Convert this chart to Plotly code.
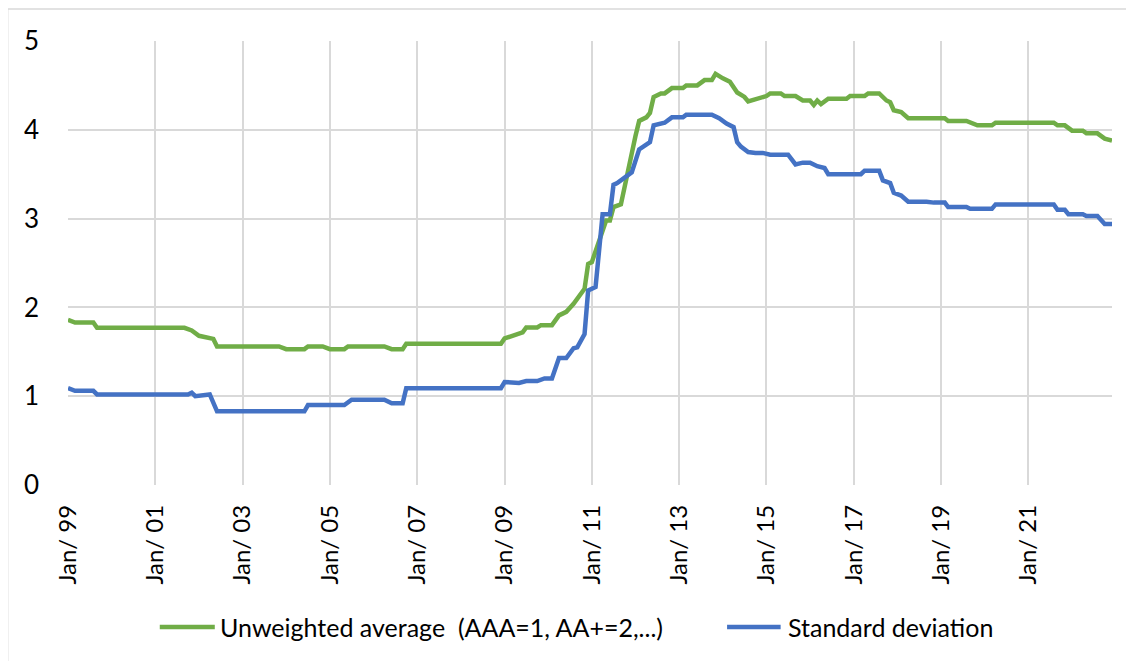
import plotly.graph_objects as go

# Green series: Unweighted average (knots)
avg_dates = ["1999-01", "1999-03", "1999-08", "1999-09", "2001-09", "2001-11", "2002-01", "2002-05",
             "2002-06", "2003-11", "2004-01", "2004-06", "2004-07", "2004-11", "2005-01", "2005-05",
             "2005-06", "2006-04", "2006-06", "2006-09", "2006-10", "2008-12", "2009-01", "2009-04",
             "2009-06", "2009-07", "2009-10", "2009-11", "2010-02", "2010-04", "2010-06", "2010-08",
             "2010-09", "2010-11", "2010-12", "2011-01", "2011-05", "2011-06", "2011-07", "2011-09",
             "2012-01", "2012-02", "2012-04", "2012-05", "2012-06", "2012-08", "2012-09", "2012-11",
             "2013-02", "2013-03", "2013-06", "2013-08", "2013-10", "2013-11", "2014-01", "2014-03",
             "2014-05", "2014-07", "2014-08", "2014-11", "2015-01", "2015-02", "2015-05", "2015-06",
             "2015-09", "2015-11", "2016-01", "2016-02", "2016-03", "2016-04", "2016-06", "2016-11",
             "2016-12", "2017-04", "2017-05", "2017-08", "2017-10", "2017-11", "2017-12", "2018-02",
             "2018-04", "2019-02", "2019-03", "2019-08", "2019-09", "2019-11", "2020-03", "2020-04",
             "2021-08", "2021-09", "2021-11", "2022-01", "2022-04", "2022-05", "2022-08", "2022-10",
             "2022-12"]
avg_values = [1.86, 1.83, 1.83, 1.77, 1.77, 1.74, 1.68, 1.645,
              1.56, 1.56, 1.53, 1.53, 1.56, 1.56, 1.53, 1.53,
              1.56, 1.56, 1.53, 1.53, 1.59, 1.59, 1.65, 1.69,
              1.72, 1.775, 1.775, 1.80, 1.80, 1.91, 1.95, 2.04,
              2.10, 2.21, 2.49, 2.51, 2.98, 2.98, 3.13, 3.16,
              3.93, 4.10, 4.14, 4.19, 4.37, 4.41, 4.41, 4.47,
              4.47, 4.50, 4.50, 4.56, 4.56, 4.63, 4.58, 4.54,
              4.42, 4.37, 4.32, 4.35, 4.38, 4.41, 4.41, 4.38,
              4.38, 4.33, 4.33, 4.28, 4.33, 4.29, 4.35, 4.35,
              4.38, 4.38, 4.41, 4.41, 4.33, 4.31, 4.22, 4.20,
              4.13, 4.13, 4.10, 4.10, 4.08, 4.05, 4.05, 4.08,
              4.08, 4.05, 4.05, 3.99, 3.99, 3.96, 3.96, 3.90,
              3.88]

# Blue series: Standard deviation
sd_dates = ["1999-01", "1999-03", "1999-08", "1999-09", "2001-10", "2001-11", "2001-12", "2002-03",
            "2002-04", "2002-06", "2004-06", "2004-07", "2005-05", "2005-07", "2006-04", "2006-06",
            "2006-09", "2006-10", "2008-12", "2009-01", "2009-05", "2009-07", "2009-10", "2009-12",
            "2010-02", "2010-04", "2010-06", "2010-08", "2010-09", "2010-11", "2010-12", "2011-02",
            "2011-04", "2011-06", "2011-07", "2011-08", "2011-11", "2011-12", "2012-02", "2012-03",
            "2012-05", "2012-06", "2012-09", "2012-11", "2013-02", "2013-03", "2013-10", "2013-12",
            "2014-02", "2014-04", "2014-05", "2014-06", "2014-08", "2014-10", "2014-12", "2015-02",
            "2015-07", "2015-09", "2015-11", "2016-01", "2016-03", "2016-05", "2016-06", "2017-03",
            "2017-04", "2017-08", "2017-09", "2017-11", "2017-12", "2018-02", "2018-04", "2018-09",
            "2018-11", "2019-02", "2019-03", "2019-08", "2019-09", "2020-03", "2020-04", "2021-08",
            "2021-09", "2021-11", "2021-12", "2022-04", "2022-05", "2022-08", "2022-10", "2022-12"]
sd_values = [1.09, 1.06, 1.06, 1.02, 1.02, 1.04, 1.00, 1.02,
             1.02, 0.83, 0.83, 0.90, 0.90, 0.96, 0.96, 0.92,
             0.92, 1.09, 1.09, 1.16, 1.15, 1.17, 1.17, 1.20,
             1.20, 1.43, 1.43, 1.54, 1.55, 1.70, 2.19, 2.23,
             3.05, 3.05, 3.38, 3.40, 3.50, 3.52, 3.78, 3.81,
             3.86, 4.05, 4.08, 4.14, 4.14, 4.17, 4.17, 4.13,
             4.07, 4.03, 3.86, 3.81, 3.75, 3.74, 3.74, 3.72,
             3.72, 3.61, 3.63, 3.63, 3.59, 3.57, 3.50, 3.50,
             3.54, 3.54, 3.43, 3.40, 3.29, 3.26, 3.19, 3.19,
             3.18, 3.18, 3.13, 3.13, 3.11, 3.11, 3.16, 3.16,
             3.10, 3.10, 3.05, 3.05, 3.03, 3.03, 2.94, 2.94]

avg_name = "Unweighted average  (AAA=1, AA+=2,...)"
sd_name = "Standard deviation"
avg_color = "#70ad47"
sd_color = "#4472c4"

FONT = "Lato, Carlito, 'Open Sans', sans-serif"
GRID = "#d9d9d9"

fig = go.Figure()
fig.add_trace(go.Scatter(x=avg_dates, y=avg_values, mode="lines", name=avg_name,
                         line=dict(color=avg_color, width=4.5), showlegend=False))
fig.add_trace(go.Scatter(x=sd_dates, y=sd_values, mode="lines", name=sd_name,
                         line=dict(color=sd_color, width=4.5), showlegend=False))

# Manual legend (swatches + text) below the plot
LEG_Y = -0.3198
legend_items = [(avg_name, avg_color, 0.0879, 0.1406, 0.1435),
                (sd_name, sd_color, 0.6313, 0.6826, 0.6878)]
shapes = [dict(type="rect", xref="paper", yref="paper",
               x0=-0.0578, x1=1.1, y0=-0.6, y1=1.072,
               line=dict(color=GRID, width=1.5), fillcolor="rgba(0,0,0,0)", layer="below")]
annotations = []
for name, color, sx0, sx1, tx in legend_items:
    shapes.append(dict(type="line", xref="paper", yref="paper", x0=sx0, x1=sx1, y0=LEG_Y, y1=LEG_Y,
                       line=dict(color=color, width=4.5)))
    annotations.append(dict(text=name, xref="paper", yref="paper", x=tx, y=LEG_Y,
                            xanchor="left", yanchor="middle", showarrow=False,
                            font=dict(family=FONT, size=25, color="#000000")))

# The page body adds an 8px offset; compensate in the figure size and margins
fig.update_layout(
    width=1126, height=653, autosize=False,
    margin=dict(l=60, r=22, t=33, b=176, autoexpand=False),
    paper_bgcolor="white", plot_bgcolor="white",
    font=dict(family=FONT, size=24, color="#000000"),
    showlegend=False,
    xaxis=dict(type="date", range=["1999-01-01", "2022-12-01"],
               tick0="1999-01-01", dtick="M24", tickformat="%b/ %y", tickangle=-90,
               showgrid=True, gridcolor=GRID, gridwidth=1.5,
               showline=False, zeroline=False, ticks="", ticklabelstandoff=14,
               tickfont=dict(family=FONT, size=24, color="#000000")),
    yaxis=dict(range=[0, 5], dtick=1, tick0=0,
               showgrid=True, gridcolor=GRID, gridwidth=1.5,
               showline=False, zeroline=False, ticks="", ticklabelstandoff=28,
               tickfont=dict(family=FONT, size=26, color="#000000")),
    shapes=shapes,
    annotations=annotations,
)

fig.write_html("out.html")
